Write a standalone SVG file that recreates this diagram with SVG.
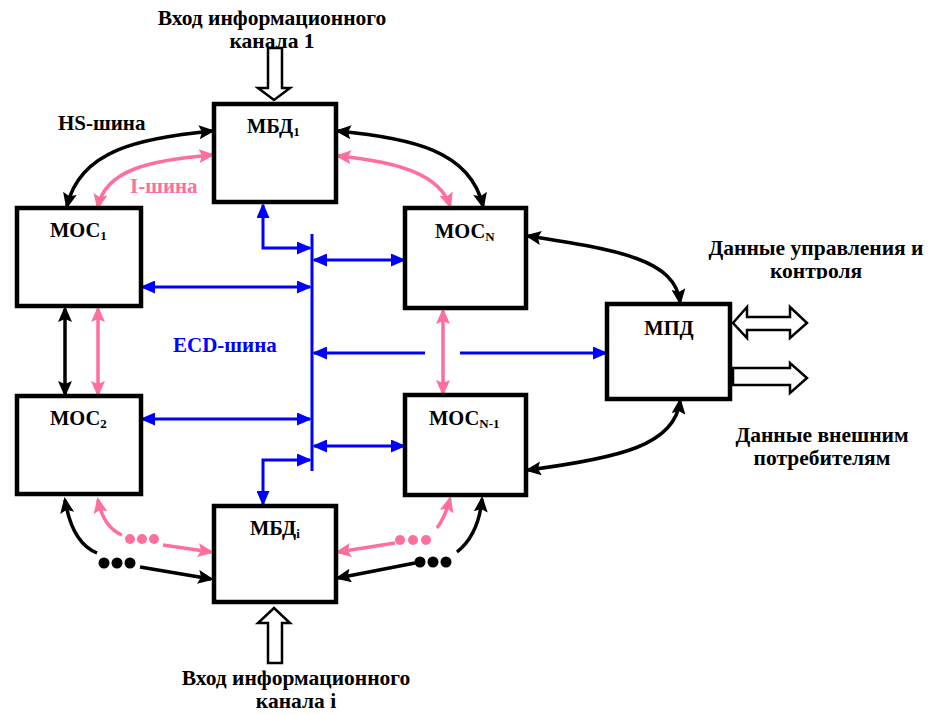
<svg xmlns="http://www.w3.org/2000/svg" width="932" height="715" viewBox="0 0 932 715">
<style>
text{font-family:"Liberation Serif","Times New Roman",serif;font-weight:bold;fill:#000}
.t{font-size:21px}
.lbl{font-size:21.5px;text-anchor:middle}
.bx{font-size:20.5px}
.sub{font-size:13px}
.box{fill:#fff;stroke:#000;stroke-width:4.5}
.blk{fill:none;stroke:#000;stroke-width:3.5;marker-start:url(#aK);marker-end:url(#aK)}
.blkE{fill:none;stroke:#000;stroke-width:3.5;marker-end:url(#aK)}
.blkS{fill:none;stroke:#000;stroke-width:3.5;marker-start:url(#aK)}
.pnk{fill:none;stroke:#ff6f9c;stroke-width:3.5;marker-start:url(#aP);marker-end:url(#aP)}
.pnkE{fill:none;stroke:#ff6f9c;stroke-width:3.5;marker-end:url(#aP)}
.pnkS{fill:none;stroke:#ff6f9c;stroke-width:3.5;marker-start:url(#aP)}
.blu{fill:none;stroke:#0000ff;stroke-width:3;marker-start:url(#aB);marker-end:url(#aB)}
.bluE{fill:none;stroke:#0000ff;stroke-width:3;marker-end:url(#aB)}
.bluS{fill:none;stroke:#0000ff;stroke-width:3;marker-start:url(#aB)}
.hol{fill:#fff;stroke:#000;stroke-width:2.5;stroke-linejoin:miter}
.dk{fill:#000}
.dp{fill:#ff6f9c}
</style>
<defs>
<marker id="aK" markerUnits="userSpaceOnUse" markerWidth="16" markerHeight="14" refX="13" refY="7" orient="auto-start-reverse" viewBox="0 0 16 14"><path d="M0,0 L16,7 L0,14 L3,7 z" fill="#000"/></marker>
<marker id="aP" markerUnits="userSpaceOnUse" markerWidth="16" markerHeight="14" refX="13" refY="7" orient="auto-start-reverse" viewBox="0 0 16 14"><path d="M0,0 L16,7 L0,14 L3,7 z" fill="#ff6f9c"/></marker>
<marker id="aB" markerUnits="userSpaceOnUse" markerWidth="15" markerHeight="13" refX="13" refY="6.5" orient="auto-start-reverse" viewBox="0 0 15 13"><path d="M0,0 L15,6.5 L0,13 z" fill="#0000ff"/></marker>
<clipPath id="clipK"><rect x="700" y="255" width="232" height="24"/></clipPath>
</defs>

<g id="labels">
<text class="lbl" x="272" y="25">Вход информационного</text>
<text class="lbl" x="272" y="48">канала 1</text>
<text class="t" x="58" y="130">HS-шина</text>
<text class="t" x="130" y="193" style="fill:#ff6f9c">I-шина</text>
<text class="t" x="173" y="352" style="fill:#0000ff">ECD-шина</text>
<text class="lbl" x="816" y="255">Данные управления и</text>
<text class="lbl" x="816" y="278" clip-path="url(#clipK)">контроля</text>
<text class="lbl" x="822" y="442">Данные внешним</text>
<text class="lbl" x="822" y="465">потребителям</text>
<text class="lbl" x="296" y="685">Вход информационного</text>
<text class="lbl" x="296" y="708">канала i</text>
</g>

<g id="connectors">
<!-- ECD bus -->
<path d="M312 234 L312 471" stroke="#0000ff" stroke-width="3" fill="none"/>
<path class="blu" d="M310 248 L263 248 L263 205"/>
<path class="blu" d="M314 260 L404 260"/>
<path class="blu" d="M142 287 L310 287"/>
<path class="bluS" d="M314 353 L425 353"/>
<path class="bluE" d="M460 353 L606 353"/>
<path class="blu" d="M142 419 L310 419"/>
<path class="blu" d="M314 446 L404 446"/>
<path class="blu" d="M310 460 L263 460 L263 504"/>
<!-- HS bus -->
<path class="blk" d="M212 131 C140 138,80 150,67 206"/>
<path class="blk" d="M338 131 C410 138,470 150,483 206"/>
<path class="blk" d="M65 309 L65 394"/>
<path class="blk" d="M528 236 C620 250,675 260,680 302"/>
<path class="blk" d="M528 470 C620 458,675 445,680 401"/>
<path class="blkS" d="M65 500 C70 530,82 547,97 553"/>
<path class="blkE" d="M140 567 L211 579"/>
<path class="blkS" d="M338 578 L415 563"/>
<path class="blkE" d="M457 552 C472 540,480 520,482 499"/>
<!-- I bus -->
<path class="pnk" d="M212 155 C150 160,105 170,98 207"/>
<path class="pnk" d="M338 156 C400 162,440 175,450 206"/>
<path class="pnk" d="M98 309 L98 394"/>
<path class="pnk" d="M443 311 L443 393"/>
<path class="pnkS" d="M98 500 C102 520,110 530,122 535"/>
<path class="pnkE" d="M163 545 L211 552"/>
<path class="pnkS" d="M338 552 L395 543"/>
<path class="pnkE" d="M437 528 C443 520,447 510,450 499"/>
<!-- dots -->
<circle class="dk" cx="104" cy="563" r="5.5"/><circle class="dk" cx="117" cy="563" r="5.5"/><circle class="dk" cx="130" cy="563" r="5.5"/>
<circle class="dp" cx="130" cy="539" r="5"/><circle class="dp" cx="142" cy="539" r="5"/><circle class="dp" cx="154" cy="539" r="5"/>
<circle class="dp" cx="400" cy="540" r="5"/><circle class="dp" cx="413" cy="540" r="5"/><circle class="dp" cx="426" cy="540" r="5"/>
<circle class="dk" cx="420" cy="562" r="5.5"/><circle class="dk" cx="433" cy="562" r="5.5"/><circle class="dk" cx="446" cy="562" r="5.5"/>
<!-- hollow arrows -->
<polygon class="hol" points="268,48 282,48 282,88 290,88 274,100 258,88 268,88"/>
<polygon class="hol" points="274,608 290,623 282,623 282,663 268,663 268,623 258,623"/>
<polygon class="hol" points="733,323 747,307 747,317 790,317 790,307 807,323 790,338 790,330 747,330 747,338"/>
<polygon class="hol" points="733,368 790,368 790,363 807,378 790,393 790,385 733,385"/>
</g>

<g id="mbd1"><rect class="box" x="214" y="104" width="122" height="98"/><text x="247" y="133" class="bx">МБД<tspan class="sub" dy="3">1</tspan></text></g>
<g id="mos1"><rect class="box" x="17" y="208" width="124" height="98"/><text x="50" y="237" class="bx">МОС<tspan class="sub" dy="3">1</tspan></text></g>
<g id="mos2"><rect class="box" x="17" y="396" width="124" height="98"/><text x="50" y="425" class="bx">МОС<tspan class="sub" dy="3">2</tspan></text></g>
<g id="mosN"><rect class="box" x="405" y="208" width="121" height="100"/><text x="435" y="238" class="bx">МОС<tspan class="sub" dy="3">N</tspan></text></g>
<g id="mosN1"><rect class="box" x="405" y="395" width="121" height="100"/><text x="429" y="425" class="bx">МОС<tspan class="sub" dy="3">N-1</tspan></text></g>
<g id="mbdi"><rect class="box" x="214" y="506" width="122" height="96"/><text x="250" y="535" class="bx">МБД<tspan class="sub" dy="3">i</tspan></text></g>
<g id="mpd"><rect class="box" x="607" y="304" width="123" height="95"/><text x="669" y="335" class="bx" text-anchor="middle">МПД</text></g>
</svg>
